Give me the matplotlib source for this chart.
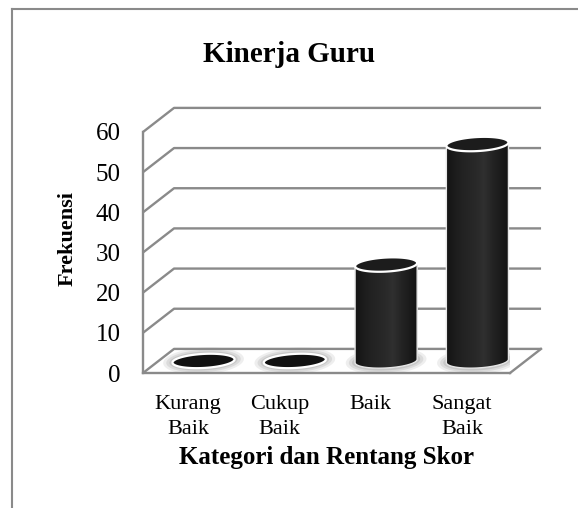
import numpy as np
import matplotlib.pyplot as plt
from matplotlib.patches import Polygon
from matplotlib.colors import LinearSegmentedColormap
from matplotlib.lines import Line2D

plt.rcParams['font.family'] = ['Liberation Serif', 'DejaVu Serif']

kategori = ['Kurang\nBaik', 'Cukup\nBaik', 'Baik', 'Sangat\nBaik']
frekuensi = [0, 0, 24, 54]
y_ticks = [0, 10, 20, 30, 40, 50, 60]

W, H = 578, 508
fig = plt.figure(figsize=(W / 100, H / 100), dpi=100)
ax = fig.add_axes([143 / W, 135 / H, 367 / W, 241 / H])
XMIN, XMAX = -0.493, 3.527

# kedalaman 3D (offset dinding belakang)
DX, DY = 0.34, 6.0
grid = '#8a8a8a'

# dinding belakang + sisi kiri
for v in y_ticks:
    ax.plot([XMIN, XMIN + DX, XMAX + DX], [v, v + DY, v + DY],
            color=grid, lw=1.7, clip_on=False, zorder=1, solid_capstyle='butt')
# lantai sisi kanan
ax.plot([XMAX, XMAX + DX], [0, DY], color=grid, lw=1.7, clip_on=False, zorder=1)

for s in ['top', 'right']:
    ax.spines[s].set_visible(False)
for s in ['left', 'bottom']:
    ax.spines[s].set_color(grid)
    ax.spines[s].set_linewidth(1.7)

# silinder
a, b, k = 0.34, 1.75, 1.2
t = np.linspace(0, 2 * np.pi, 100)
t_bot = np.linspace(np.pi, 2 * np.pi, 60)
cmap = LinearSegmentedColormap.from_list('cyl', [
    (0.0, '#141414'), (0.25, '#222222'), (0.5, '#2a2a2a'),
    (0.6, '#303030'), (0.75, '#232323'), (1.0, '#121212')])
grad = np.linspace(0, 1, 200).reshape(1, -1)


def elips(xc, yc, sa=1.0, sb=1.0, tt=t):
    x = xc + a * sa * np.cos(tt)
    y = yc + b * sb * np.sin(tt) + k * (x - xc)
    return np.column_stack([x, y])


for i, val in enumerate(frekuensi):
    xc = i + DX / 2
    base = DY / 2
    # bayangan di lantai
    for sa, sb, al in [(1.3, 1.9, 0.15), (1.2, 1.6, 0.2), (1.1, 1.35, 0.25)]:
        ax.add_patch(Polygon(elips(xc, base, sa, sb), closed=True,
                             facecolor='#8f8f8f', edgecolor='none', alpha=al, zorder=2))
    if val > 0:
        top = base + val
        bot = elips(xc, base, tt=t_bot)
        pts = np.vstack([[xc - a, top - k * a], bot, [xc + a, top + k * a]])
        body = Polygon(pts, closed=True, facecolor='none',
                       edgecolor='#e6e6e6', lw=1.0, zorder=4)
        ax.add_patch(body)
        im = ax.imshow(grad, cmap=cmap, aspect='auto', zorder=3,
                       extent=[xc - a, xc + a, base - 2 * b, top + 2 * b])
        im.set_clip_path(body)
        ax.add_patch(Polygon(elips(xc, top), closed=True, facecolor='#1c1c1c',
                             edgecolor='white', lw=1.6, zorder=5))
    else:
        ax.add_patch(Polygon(elips(xc, base), closed=True, facecolor='#111111',
                             edgecolor='white', lw=1.6, zorder=5))

ax.set_xlim(XMIN, XMAX)
ax.set_ylim(0, 60)
ax.set_xticks(range(len(kategori)))
ax.set_xticklabels(kategori, fontsize=16, linespacing=1.4)
ax.set_yticks(y_ticks)
ax.tick_params(axis='y', length=0, pad=16, labelsize=18)
ax.tick_params(axis='x', length=0, pad=16)
ax.set_xlabel('Kategori dan Rentang Skor', fontsize=18, fontweight='bold', labelpad=5)

fig.text(289 / W, 1 - 55 / H, 'Kinerja Guru', ha='center', va='center',
         fontsize=21, fontweight='bold')
fig.text(68 / W, 1 - 239 / H, 'Frekuensi', rotation=90, ha='center', va='center',
         fontsize=16, fontweight='bold')

# bingkai area grafik
fig.add_artist(Line2D([12 / W, 12 / W], [0, 1 - 9 / H], transform=fig.transFigure,
                      color='#8a8a8a', lw=1.5))
fig.add_artist(Line2D([12 / W, 1], [1 - 9 / H, 1 - 9 / H], transform=fig.transFigure,
                      color='#8a8a8a', lw=1.5))

fig.savefig('out.png', dpi=100)
